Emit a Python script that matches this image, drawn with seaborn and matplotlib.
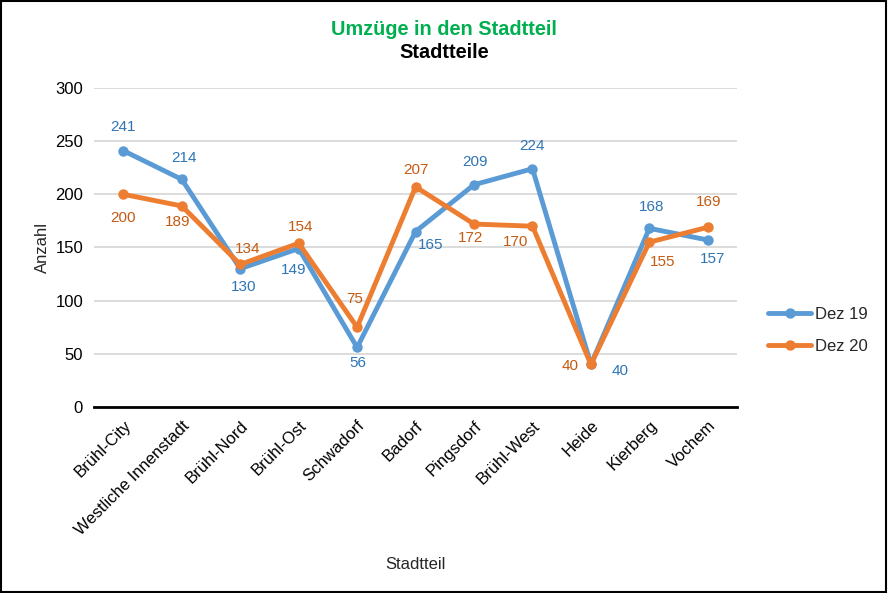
import pandas as pd
import seaborn as sns
import matplotlib
matplotlib.use("Agg")
from matplotlib import pyplot as plt
from matplotlib.patches import Rectangle

"""
Data
"""
stadtteile = ["Brühl-City", "Westliche Innenstadt", "Brühl-Nord", "Brühl-Ost",
              "Schwadorf", "Badorf", "Pingsdorf", "Brühl-West", "Heide",
              "Kierberg", "Vochem"]
dez19 = [241, 214, 130, 149, 56, 165, 209, 224, 40, 168, 157]
dez20 = [200, 189, 134, 154, 75, 207, 172, 170, 40, 155, 169]

"""
Label offsets (pixels, right / down) as the data labels sit in the chart
"""
off19 = [(0, -24), (2, -21), (3, 18), (-5, 21), (1, 16), (15, 13),
         (1, -23), (0, -23), (29, 7), (2, -21), (5, 19)]
off20 = [(0, 24), (-4, 16), (7, -15), (2, -16), (-2, -28), (0, -17),
         (-3, 14), (-17, 16), (-21, 2), (13, 20), (1, -25)]

sns.set_style("white")
plt.rcParams["font.family"] = ["Liberation Sans", "DejaVu Sans"]

df = pd.DataFrame({
    "Stadtteil": stadtteile * 2,
    "Anzahl": dez19 + dez20,
    "Serie": ["Dez 19"] * len(dez19) + ["Dez 20"] * len(dez20),
})

line_colors = {"Dez 19": "#5B9BD5", "Dez 20": "#ED7D31"}
label_colors = {"Dez 19": "#2E75B6", "Dez 20": "#C55A11"}

fig = plt.figure(figsize=(8.88, 5.93), dpi=100)
ax = fig.add_axes([0.106, 0.3137, 0.724, 0.538])

sns.lineplot(data=df, x="Stadtteil", y="Anzahl", hue="Serie", palette=line_colors,
             marker="o", markersize=7.5, markeredgewidth=0, linewidth=3.5,
             sort=False, ax=ax)

px = 0.72  # pixels -> points at 100 dpi
for serie, vals, offs in [("Dez 19", dez19, off19), ("Dez 20", dez20, off20)]:
    for i, (v, (dx, dy)) in enumerate(zip(vals, offs)):
        ax.annotate(str(v), (i, v), xytext=(dx * px, -dy * px), textcoords="offset points",
                    ha="center", va="center", fontsize=11, color=label_colors[serie])

ax.set_ylim(0, 300)
ax.set_xlim(-0.5, len(stadtteile) - 0.5)
ax.set_yticks(range(0, 301, 50))
ax.yaxis.grid(True, color="#D9D9D9", linewidth=1.3)
ax.set_axisbelow(True)
for s in ["left", "right", "top"]:
    ax.spines[s].set_visible(False)
ax.spines["bottom"].set_color("black")
ax.spines["bottom"].set_linewidth(2)
ax.tick_params(axis="both", length=0, labelsize=12, colors="black", pad=8)
plt.setp(ax.get_xticklabels(), rotation=45, ha="right", rotation_mode="anchor")

ax.set_xlabel("Stadtteil", fontsize=12, labelpad=14)
ax.set_ylabel("Anzahl", fontsize=12, labelpad=4)

fig.text(0.5, 0.951, "Umzüge in den Stadtteil", ha="center", va="center",
         fontsize=14.3, fontweight="bold", color="#00B050")
fig.text(0.5, 0.911, "Stadtteile", ha="center", va="center",
         fontsize=14.3, fontweight="bold", color="black")

leg = ax.legend(loc="center left", bbox_to_anchor=(1.025, 0.24), frameon=False,
                fontsize=12, handlelength=2.6, labelspacing=1.0, handletextpad=0.2)

fig.patches.append(Rectangle((0.001, 0.002), 0.997, 0.996, transform=fig.transFigure,
                             fill=False, edgecolor="black", linewidth=1.5))

fig.savefig("out.png", dpi=100)
